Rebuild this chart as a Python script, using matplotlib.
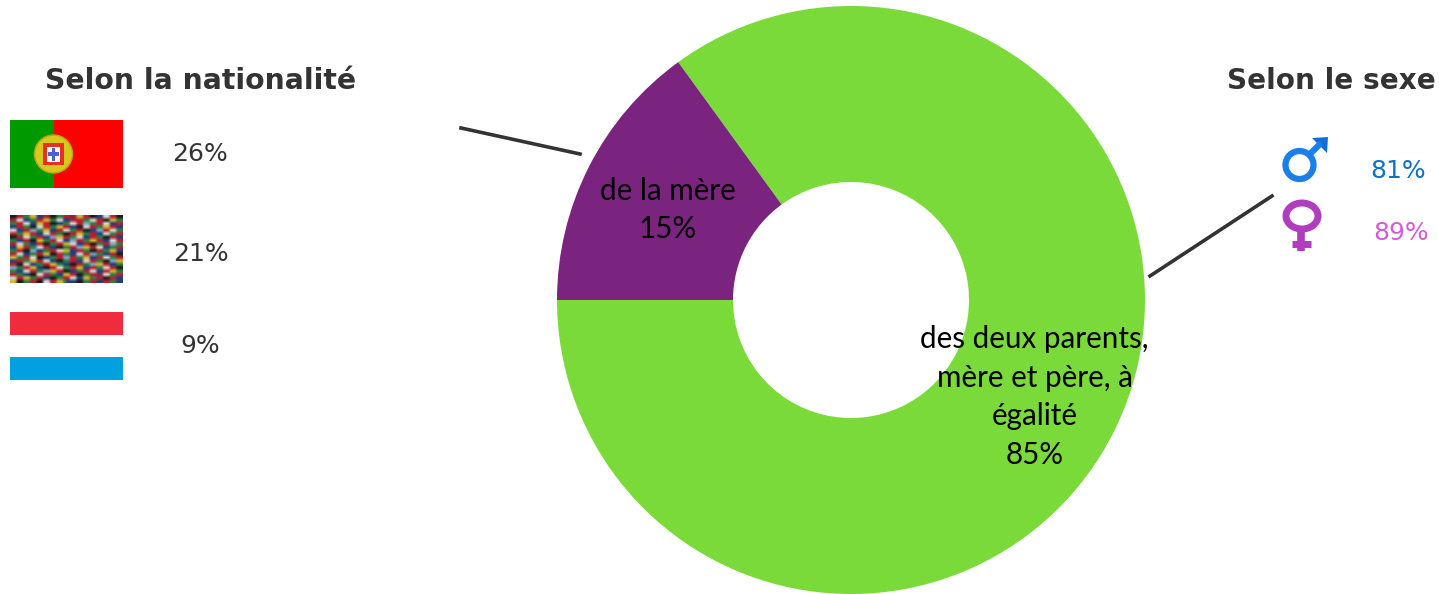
import numpy as np
import matplotlib
matplotlib.use('Agg')
import matplotlib.pyplot as plt
from matplotlib.colors import to_rgb
from matplotlib.patches import Circle, Ellipse, Polygon, Rectangle

W, H = 1439, 594

# donut
slice_labels = ['des deux parents,\nmère et père, à\négalité\n85%', 'de la mère\n15%']
slice_values = [85, 15]
slice_colors = ['#7ADA3A', '#7A237F']

# left panel
nat_title = 'Selon la nationalité'
nat_values = ['26%', '21%', '9%']
# right panel
sex_title = 'Selon le sexe'
sex_values = ['81%', '89%']
sex_colors = ['#0D72C4', '#D45DD6']

# world flags mosaic, one letter per little patch
flag_colors = {'r': '#B8202F', 'g': '#2E8040', 'b': '#1F3F80', 'w': '#D8D8D0',
               'y': '#D5B52E', 'k': '#1A1A1A', 'l': '#7FA8C8', 'p': '#7A2A4A'}
world_rows = [
    'kkrrggyybbrrkkggrrppyyrrkkbbwwrrkk',
    'rrwwbbggrryyggwwbbrrrrggwwrrkkyygg',
    'ggrrwwbbyyrrkkbbggwwrrllggrrwwbbrr',
    'bbrrggkkwwrrggyyrrbbkkwwrrggyyrrbb',
    'wwbbrrllggyybbrrwwggrrkkbbllrrwwgg',
    'rrggyyrrbbwwrrggkkrryyggrrbbwwggrr',
    'kkrrwwggrrbbllyyrrggwwbbrrggkkrrbb',
    'ggbbrrkkyyggrrwwbbllrrggyyrrbbwwrr',
    'rrwwggbbrrkkggrryywwbbrrkkggrrllgg',
    'bbyyrrggwwrrbbkkggrrllyyrrwwbbggrr',
    'ggrrkkllbbggrrwwyybbrrggkkrrggyybb',
    'rrwwbbggrryykkrrggbbwwrrllggbbrrkk',
    'yyggrrwwkkbbggrrllrrggyybbrrwwggrr',
    'bbrrggyyrrwwbbkkggrrbbwwrrggkkllyy',
    'rrkkwwbbggrryyggbbkkrrggllyyrrbbgg',
    'llggrryybbkkrrwwggrryybbrrggwwrrkk',
    'ggbbwwrrggllyyrrkkbbggrrwwbbrryygg',
    'rrggbbkkwwrrggbbyyrrkkggrrppwwggrr',
    'wwrryyggrrbbkkggrrwwbbyyggrrkkrrbb',
    'yykkggrrkkwwrryygbbbkkggrrbbrrggbb',
]

fig = plt.figure(figsize=(W / 100, H / 100), dpi=100)

# pixel axes for everything around the donut
ax = fig.add_axes([0, 0, 1, 1])
ax.set_xlim(0, W)
ax.set_ylim(H, 0)
ax.axis('off')

# donut has its own axes
cx, cy, r_out, r_in = 851, 300, 294, 118
ax_pie = fig.add_axes([(cx - r_out) / W, (H - cy - r_out) / H, 2 * r_out / W, 2 * r_out / H])
ax_pie.pie(slice_values, colors=slice_colors, startangle=180, counterclock=True,
           radius=1, wedgeprops={'width': 1 - r_in / r_out, 'linewidth': 0})
ax_pie.set_xlim(-1, 1)
ax_pie.set_ylim(-1, 1)
ax_pie.set_zorder(0)
ax.set_zorder(1)
ax.patch.set_alpha(0)

ax.text(1034.5, 397, slice_labels[0], ha='center', va='center', fontsize=21.3,
        family='Lato', color='black', linespacing=1.47)
ax.text(668, 210, slice_labels[1], ha='center', va='center', fontsize=21.3,
        family='Lato', color='black', linespacing=1.47)

# leader lines
dark = '#333333'
ax.plot([461, 580], [128, 154], color=dark, lw=2.6)
ax.plot([1150, 1272], [276, 196], color=dark, lw=2.6)

# titles
ax.text(201, 81, nat_title, ha='center', va='center', fontsize=20.3, fontweight='bold', color=dark)
ax.text(1331, 81, sex_title, ha='center', va='center', fontsize=20.1, fontweight='bold', color=dark)

# percentages
for x, y, s in zip([200, 201, 200], [154, 254, 346], nat_values):
    ax.text(x, y, s, ha='center', va='center', fontsize=18, color=dark)
for x, y, s, c in zip([1398, 1401], [171, 233], sex_values, sex_colors):
    ax.text(x, y, s, ha='center', va='center', fontsize=18, color=c)

# portugal
ax.add_patch(Rectangle((10, 120), 44, 68, fc='#009900', lw=0))
ax.add_patch(Rectangle((54, 120), 69, 68, fc='#FF0000', lw=0))
ax.add_patch(Circle((53.5, 154), 19, fc='#D8C81E', ec='#B8A810', lw=1))
ax.add_patch(Rectangle((43, 143), 21, 22, fc='#E8301E', lw=0))
ax.add_patch(Rectangle((47, 147), 13, 15, fc='white', lw=0))
ax.add_patch(Rectangle((52, 148), 3, 13, fc='#4A62D8', lw=0))
ax.add_patch(Rectangle((48, 152), 11, 4, fc='#4A62D8', lw=0))

# world flags
mosaic = np.array([[to_rgb(flag_colors[c]) for c in row] for row in world_rows])
ax.imshow(mosaic, extent=(10, 123, 283, 215), aspect='auto', interpolation='bilinear', zorder=2)
ax.set_xlim(0, W)
ax.set_ylim(H, 0)

# luxembourg, no white band needed on a white page
ax.add_patch(Rectangle((10, 312), 113, 23, fc='#EF2B3D', lw=0))
ax.add_patch(Rectangle((10, 357), 113, 23, fc='#00A1DE', lw=0))

# male sign
blue = '#1A7FE8'
ax.add_patch(Circle((1299.5, 165), 14, fc='none', ec=blue, lw=4.5))
ax.plot([1309, 1321], [155, 143], color=blue, lw=4.5, solid_capstyle='butt')
ax.add_patch(Polygon([(1312, 138), (1328, 137), (1327, 153)], fc='#0F6FD8', lw=0))

# female sign
purple = '#B03CBE'
ax.add_patch(Ellipse((1302, 216), 32, 26, fc='none', ec=purple, lw=5))
ax.plot([1301, 1301], [230, 251], color=purple, lw=5.5, solid_capstyle='butt')
ax.plot([1292, 1311], [243.5, 243.5], color=purple, lw=5, solid_capstyle='butt')

fig.savefig('out.png', dpi=100)
